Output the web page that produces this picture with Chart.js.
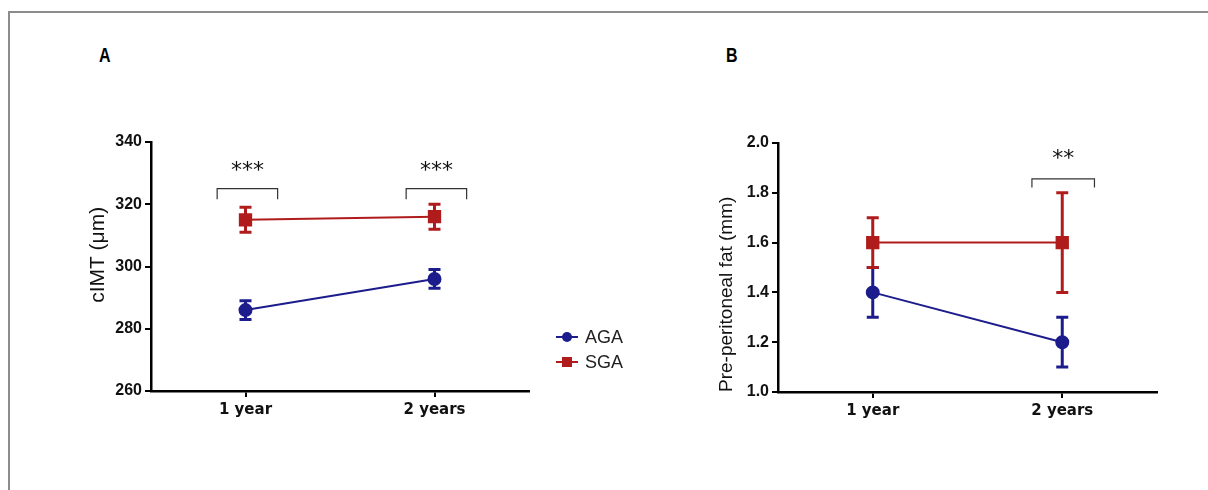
<!DOCTYPE html>
<html>
<head>
<meta charset="utf-8">
<script src="https://cdn.jsdelivr.net/npm/chart.js@4"></script>
<style>
body { margin: 0; background: #fff; width: 1208px; height: 490px; overflow: hidden; position: relative; font-family: "Liberation Sans", Arial, sans-serif; }
.frame { position: absolute; left: 8px; top: 11px; right: 0; bottom: 0; border-top: 2px solid #8c8c8c; border-left: 2px solid #8c8c8c; }
.panel { position: absolute; font-weight: bold; font-size: 20px; color: #000; transform: scaleX(0.8); transform-origin: left top; }
#wa { position: absolute; left: 0; top: 0; width: 660px; height: 490px; }
#wb { position: absolute; left: 660px; top: 0; width: 548px; height: 490px; }
</style>
</head>
<body>
<div class="frame"></div>
<div class="panel" style="left:99px; top:44px;">A</div>
<div class="panel" style="left:726px; top:44px;">B</div>
<div id="wa"><canvas id="chartA"></canvas></div>
<div id="wb"><canvas id="chartB"></canvas></div>
<script>
// categories
var years = ['1 year', '2 years'];
var groups = ['AGA', 'SGA'];

// panel A: cIMT (um), mean and error
var cimtAGA = [286, 296];
var cimtAGAErr = [3, 3];
var cimtSGA = [315, 316];
var cimtSGAErr = [4, 4];

// panel B: pre-peritoneal fat (mm)
var fatAGA = [1.4, 1.2];
var fatAGAErr = [0.1, 0.1];
var fatSGA = [1.6, 1.6];
var fatSGAErr = [0.1, 0.2];

// significance marks per category
var cimtStars = ['***', '***'];
var fatStars = ['', '**'];

var blue = '#1c1c8c';
var red = '#b01c1c';

// error bars drawn behind the points
var errorBars = {
    id: 'errorBars',
    beforeDatasetsDraw: function(chart) {
        var ctx = chart.ctx;
        var y = chart.scales.y;
        var x = chart.scales.x;
        var errs = chart.options.plugins.errorBars.errs;
        chart.data.datasets.forEach(function(ds, d) {
            ctx.save();
            ctx.strokeStyle = ds.borderColor;
            ctx.lineWidth = 3;
            ds.data.forEach(function(v, i) {
                var px = x.getPixelForValue(i);
                var top = y.getPixelForValue(v + errs[d][i]);
                var bot = y.getPixelForValue(v - errs[d][i]);
                ctx.beginPath();
                ctx.moveTo(px, top); ctx.lineTo(px, bot);
                ctx.moveTo(px - 6, top); ctx.lineTo(px + 6, top);
                ctx.moveTo(px - 6, bot); ctx.lineTo(px + 6, bot);
                ctx.stroke();
            });
            ctx.restore();
        });
    }
};

// brackets with stars above the pair of points
var sigMarks = {
    id: 'sigMarks',
    afterDraw: function(chart) {
        var o = chart.options.plugins.sigMarks;
        var ctx = chart.ctx;
        var x = chart.scales.x;
        var y = chart.scales.y;
        o.stars.forEach(function(s, i) {
            if (!s) return;
            var l = x.getPixelForValue(i + o.from);
            var r = x.getPixelForValue(i + o.to);
            var t = y.getPixelForValue(o.top);
            var b = y.getPixelForValue(o.low);
            ctx.save();
            ctx.strokeStyle = '#333';
            ctx.lineWidth = 1.2;
            ctx.beginPath();
            ctx.moveTo(l, b); ctx.lineTo(l, t); ctx.lineTo(r, t); ctx.lineTo(r, b);
            ctx.stroke();
            ctx.fillStyle = '#111';
            ctx.font = '22px "DejaVu Sans"';
            ctx.textAlign = 'center';
            ctx.textBaseline = 'middle';
            ctx.fillText(s, (l + r) / 2, y.getPixelForValue(o.text) + 4);
            ctx.restore();
        });
    }
};

// legend between the panels
var sideLegend = {
    id: 'sideLegend',
    afterDraw: function(chart) {
        var ctx = chart.ctx;
        chart.data.datasets.forEach(function(ds, d) {
            var cy = 337 + d * 25;
            ctx.save();
            ctx.strokeStyle = ds.borderColor;
            ctx.fillStyle = ds.borderColor;
            ctx.lineWidth = 2;
            ctx.beginPath();
            ctx.moveTo(556, cy); ctx.lineTo(578, cy);
            ctx.stroke();
            if (ds.pointStyle === 'rect') {
                ctx.fillRect(562, cy - 5, 10, 10);
            } else {
                ctx.beginPath();
                ctx.arc(567, cy, 5, 0, Math.PI * 2);
                ctx.fill();
            }
            ctx.fillStyle = '#222';
            ctx.font = '18px "Liberation Sans"';
            ctx.textBaseline = 'middle';
            ctx.fillText(ds.label, 585, cy + 1);
            ctx.restore();
        });
    }
};

function makeDatasets(a, s) {
    return [
        { label: groups[0], data: a, borderColor: blue, backgroundColor: blue,
          pointStyle: 'circle', pointRadius: 6, borderWidth: 2, order: 1 },
        { label: groups[1], data: s, borderColor: red, backgroundColor: red,
          pointStyle: 'rect', pointRadius: 8, borderWidth: 2, order: 0 }
    ];
}

function makeScales(min, max, step, title, titleSize, titleAlign, yWidth, fmt) {
    return {
        x: {
            offset: true,
            afterFit: function(s) { s.height = 40; },
            grid: { display: true, drawOnChartArea: false, tickLength: 6, color: '#000', lineWidth: 2 },
            border: { display: true, color: '#000', width: 2.5 },
            ticks: { color: '#111', padding: 4, font: { family: 'DejaVu Sans', weight: 'bold', size: 15 } }
        },
        y: {
            min: min, max: max,
            afterFit: function(s) { s.width = yWidth; },
            grid: { display: true, drawOnChartArea: false, tickLength: 6, color: '#000', lineWidth: 2 },
            border: { display: true, color: '#000', width: 2.5 },
            ticks: { stepSize: step, color: '#111', padding: 3,
                     font: { family: 'Liberation Sans', weight: 'bold', size: 16 },
                     callback: fmt },
            title: { display: true, text: title, color: '#111', padding: 4, align: titleAlign,
                     font: { family: 'Liberation Sans', size: titleSize } }
        }
    };
}

new Chart('chartA', {
    type: 'line',
    data: { labels: years, datasets: makeDatasets(cimtAGA, cimtSGA) },
    options: {
        responsive: true, maintainAspectRatio: false, animation: false,
        layout: { padding: { left: 82, right: 131, top: 142, bottom: 59 } },
        scales: makeScales(260, 340, 20, '    cIMT (\u03bcm)', 21, 'center', 69, function(v) { return v; }),
        plugins: {
            legend: { display: false }, tooltip: { enabled: false },
            errorBars: { errs: [cimtAGAErr, cimtSGAErr] },
            sigMarks: { stars: cimtStars, from: -0.15, to: 0.17, top: 325, low: 321.6, text: 332 }
        }
    },
    plugins: [errorBars, sigMarks, sideLegend]
});

new Chart('chartB', {
    type: 'line',
    data: { labels: years, datasets: makeDatasets(fatAGA, fatSGA) },
    options: {
        responsive: true, maintainAspectRatio: false, animation: false,
        layout: { padding: { left: 51, right: 51, top: 143, bottom: 58 } },
        scales: makeScales(1.0, 2.0, 0.2, 'Pre-peritoneal fat (mm)', 19, 'start', 67, function(v) { return v.toFixed(1); }),
        plugins: {
            legend: { display: false }, tooltip: { enabled: false },
            errorBars: { errs: [fatAGAErr, fatSGAErr] },
            sigMarks: { stars: fatStars, from: -0.16, to: 0.17, top: 1.856, low: 1.821, text: 1.95 }
        }
    },
    plugins: [errorBars, sigMarks]
});
</script>
</body>
</html>
